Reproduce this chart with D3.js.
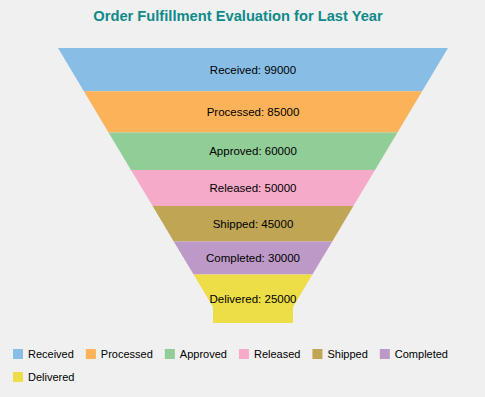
<!DOCTYPE html>
<html>
<head>
<meta charset="utf-8">
<script src="https://cdnjs.cloudflare.com/ajax/libs/d3/7.8.5/d3.min.js"></script>
<style>
  body { margin: 0; background: #f0f0f0; }
  svg { display: block; font-family: "Liberation Sans", Arial, sans-serif; }
</style>
</head>
<body>
<script>
var width = 485, height = 397

// data
var stages = ["Received", "Processed", "Approved", "Released", "Shipped", "Completed", "Delivered"]
var orders = [99000, 85000, 60000, 50000, 45000, 30000, 25000]
var colors = ["#88BDE6", "#FBB258", "#90CD97", "#F6AAC9", "#BFA554", "#BC99C7", "#EDDD46"]

var svg = d3.select("body").append("svg")
    .attr("width", width)
    .attr("height", height)

svg.append("rect")
    .attr("width", width)
    .attr("height", height)
    .attr("fill", "#f0f0f0")

svg.append("text")
    .attr("x", 238)
    .attr("y", 21)
    .attr("text-anchor", "middle")
    .style("font-size", "14.7px")
    .style("font-weight", "bold")
    .style("fill", "#0f8a8a")
    .text("Order Fulfillment Evaluation for Last Year")

// funnel geometry
var cx = 253, funnelTop = 48, neckTop = 307, funnelBottom = 323
var topHalf = 195, neckHalf = 40

// segment height grows with value, then stretched to fill the funnel body
var hScale = d3.scaleLinear()
    .domain([d3.min(orders), d3.max(orders)])
    .range([30, 40])
var raw = orders.map(function(v) { return hScale(v) })
var yScale = d3.scaleLinear()
    .domain([0, d3.sum(raw)])
    .range([funnelTop, neckTop])

var cum = [0]
raw.forEach(function(h, i) { cum.push(cum[i] + h) })

// half width at a given y
var halfW = d3.scaleLinear()
    .domain([funnelTop, neckTop])
    .range([topHalf, neckHalf])
    .clamp(true)

var segs = orders.map(function(v, i) {
  var y0 = yScale(cum[i]), y1 = yScale(cum[i + 1])
  if (i == orders.length - 1) y1 = funnelBottom
  return { name: stages[i], value: v, y0: y0, y1: y1, color: colors[i] }
})

function segPath(d) {
  var pts = [
    [cx - halfW(d.y0), d.y0],
    [cx + halfW(d.y0), d.y0]
  ]
  if (d.y1 > neckTop) {
    pts.push([cx + neckHalf, neckTop])
    pts.push([cx + neckHalf, d.y1])
    pts.push([cx - neckHalf, d.y1])
    pts.push([cx - neckHalf, neckTop])
  } else {
    pts.push([cx + halfW(d.y1), d.y1])
    pts.push([cx - halfW(d.y1), d.y1])
  }
  return "M" + pts.join("L") + "Z"
}

var g = svg.append("g")

g.selectAll("path")
    .data(segs)
    .enter().append("path")
    .attr("d", segPath)
    .attr("fill", function(d) { return d.color })

g.selectAll("text")
    .data(segs)
    .enter().append("text")
    .attr("x", cx)
    .attr("y", function(d) { return (d.y0 + d.y1) / 2 })
    .attr("dy", "0.35em")
    .attr("text-anchor", "middle")
    .style("font-size", "11.5px")
    .style("fill", "#000")
    .text(function(d) { return d.name + ": " + d.value })

// legend, wrapping
var legend = svg.append("g")
var lx = 13, ly = 349, maxX = 470
stages.forEach(function(s, i) {
  var item = legend.append("g")
  item.append("rect")
      .attr("width", 10)
      .attr("height", 10)
      .attr("fill", colors[i])
  var t = item.append("text")
      .attr("x", 15)
      .attr("y", 5)
      .attr("dy", "0.35em")
      .style("font-size", "11px")
      .style("fill", "#000")
      .text(s)
  var w = 15 + t.node().getComputedTextLength() + 12
  if (lx + w - 12 > maxX) { lx = 13; ly += 23 }
  item.attr("transform", "translate(" + lx + "," + ly + ")")
  lx += w
})
</script>
</body>
</html>
